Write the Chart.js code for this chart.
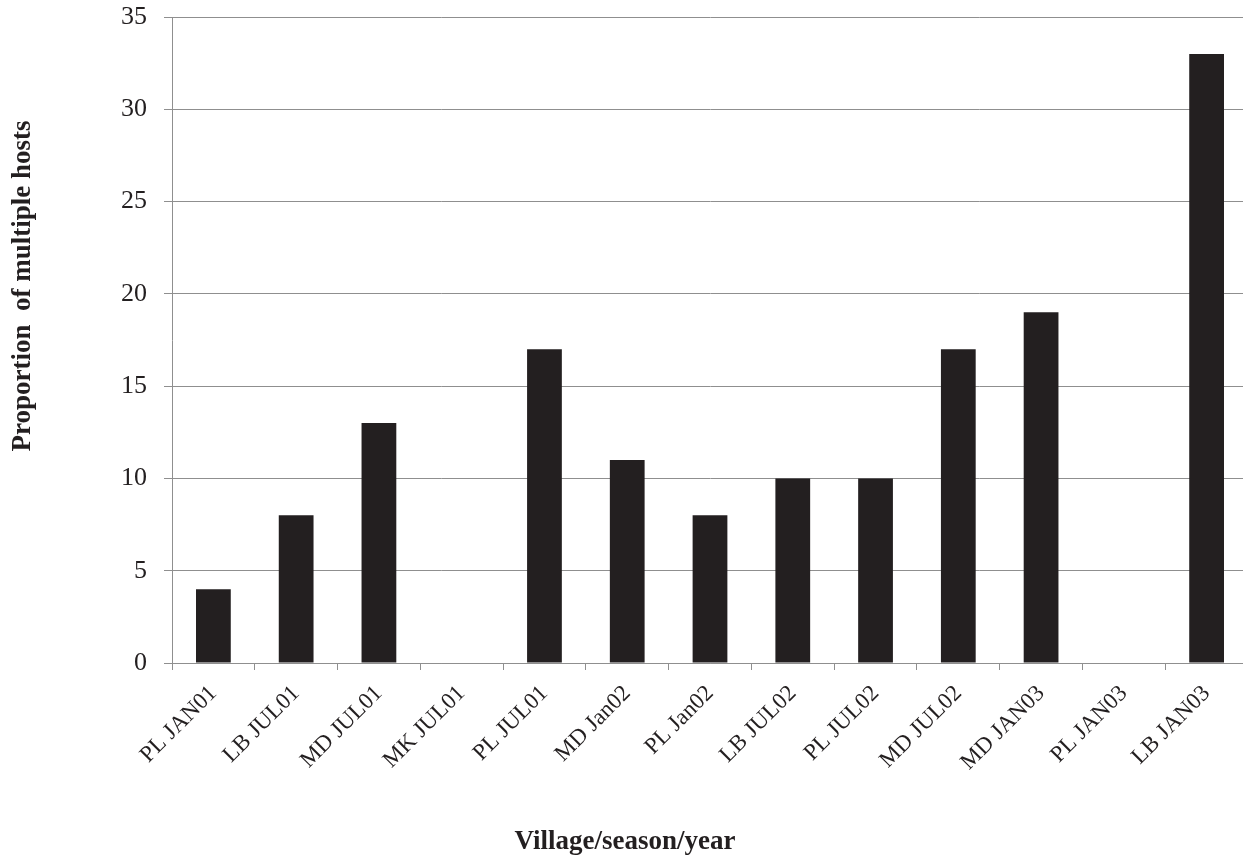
<!DOCTYPE html>
<html>
<head>
<meta charset="utf-8">
<script src="https://cdn.jsdelivr.net/npm/chart.js@4.4.0/dist/chart.umd.min.js"></script>
<style>
  html, body { margin: 0; padding: 0; background: #fff; overflow: hidden; }
  #wrap { position: relative; width: 1250px; height: 858px; }
</style>
</head>
<body>
<div id="wrap"><canvas id="chart" width="1250" height="858"></canvas></div>
<script>
const categories = [
  'PL JAN01', 'LB JUL01', 'MD JUL01', 'MK JUL01', 'PL JUL01', 'MD Jan02', 'PL Jan02',
  'LB JUL02', 'PL JUL02', 'MD JUL02', 'MD JAN03', 'PL JAN03', 'LB JAN03'
];
const multipleHosts = [4, 8, 13, 0, 17, 11, 8, 10, 10, 17, 19, 0, 33];
const yMin = 0;
const yMax = 35;
const yStep = 5;
const xTitle = 'Village/season/year';
const yTitle = 'Proportion  of multiple hosts';

const ink = '#231f20';
const gridGray = '#8f8f8f';
const serif = '"Liberation Serif", "Times New Roman", serif';

// axis titles sit off-centre in the original, so draw them by hand
const axisTitles = {
  id: 'axisTitles',
  afterDraw(chart) {
    const ctx = chart.ctx;
    ctx.save();
    ctx.fillStyle = ink;
    ctx.font = 'bold 27px ' + serif;
    ctx.textAlign = 'center';
    ctx.textBaseline = 'middle';
    ctx.fillText(xTitle, 625, 842);
    ctx.translate(23, 286);
    ctx.rotate(-Math.PI / 2);
    ctx.fillText(yTitle, 0, 0);
    ctx.restore();
  }
};

new Chart(document.getElementById('chart'), {
  type: 'bar',
  data: {
    labels: categories,
    datasets: [
      {
        label: 'Proportion of multiple hosts',
        data: multipleHosts,
        backgroundColor: ink,
        barPercentage: 0.42,
        categoryPercentage: 1.0,
      },
    ],
  },
  options: {
    responsive: false,
    animation: false,
    devicePixelRatio: 1,
    layout: { padding: { top: 17, right: 2, bottom: 0, left: 0 } },
    plugins: {
      legend: { display: false },
      tooltip: { enabled: false },
    },
    scales: {
      x: {
        afterFit: (scale) => { scale.height = 195; },
        border: { display: true, color: gridGray, width: 1 },
        grid: { display: true, drawOnChartArea: false, drawTicks: true, tickLength: 7, color: gridGray, offset: true },
        ticks: {
          autoSkip: false,
          minRotation: 45,
          maxRotation: 45,
          padding: 10,
          color: ink,
          font: { family: serif, size: 23 },
        },
      },
      y: {
        min: yMin,
        max: yMax,
        afterFit: (scale) => {
          scale.width = 172;
          // the label padding would otherwise push the plot top down
          scale.paddingTop = 0;
          scale.paddingBottom = 0;
        },
        border: { display: true, color: gridGray, width: 1 },
        grid: { color: gridGray, tickLength: 8 },
        ticks: {
          stepSize: yStep,
          padding: 17,
          color: ink,
          font: { family: serif, size: 26 },
        },
      },
    },
  },
  plugins: [axisTitles],
});
</script>
</body>
</html>
